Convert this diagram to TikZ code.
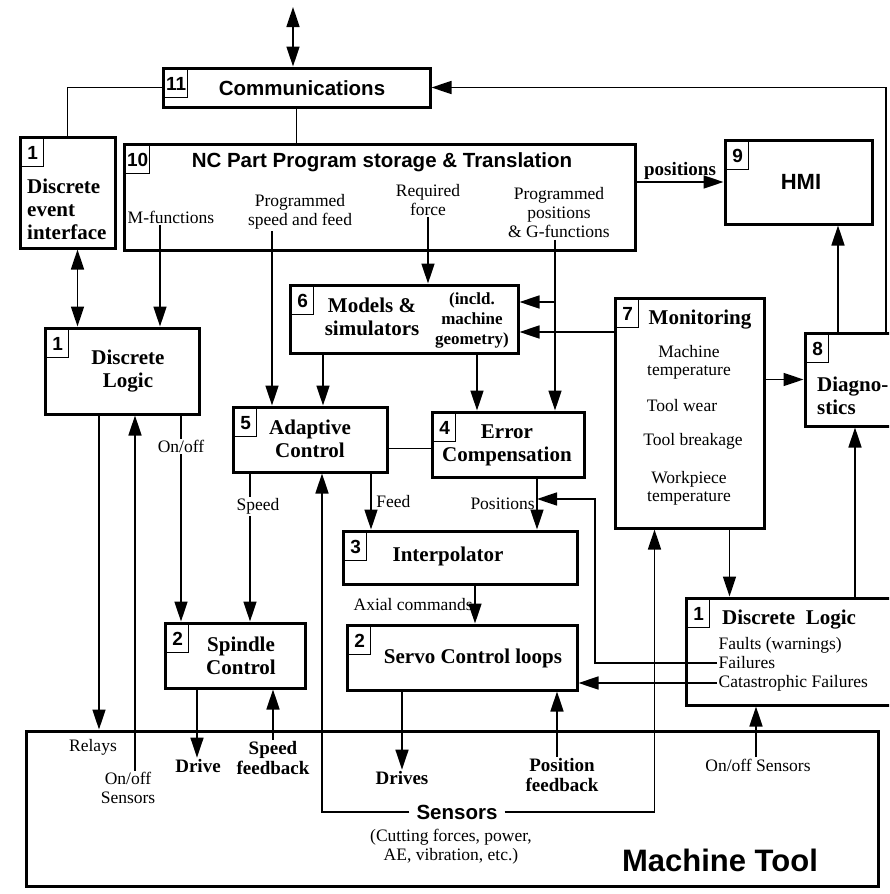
\documentclass[tikz,border=0pt]{standalone}
\usepackage{fontspec}
\setmainfont{Liberation Serif}
\setsansfont{Liberation Sans}
\usetikzlibrary{arrows.meta}
\tikzset{
 blk/.style={draw,line width=3pt,inner sep=0pt},
 nbox/.style={draw,line width=1.3pt,anchor=north west,inner sep=1.5pt,minimum width=22pt,minimum height=28pt,font=\sffamily\bfseries\fontsize{19}{19}\selectfont},
 ttl/.style={font=\bfseries\fontsize{21}{23}\selectfont,align=center,inner sep=1pt},
 sttl/.style={font=\sffamily\bfseries\fontsize{20.5}{22}\selectfont,inner sep=1pt},
 lbl/.style={font=\fontsize{17.5}{19}\selectfont,align=center,inner sep=1.5pt},
 blbl/.style={font=\bfseries\fontsize{19}{20}\selectfont,align=center,inner sep=1.5pt},
 ln/.style={line width=1.6pt},
 arr/.style={ln,-{Triangle[length=20pt,width=13pt]}},
 dbl/.style={ln,{Triangle[length=20pt,width=13pt]}-{Triangle[length=20pt,width=13pt]}}
}
\begin{document}
\begin{tikzpicture}[x=1pt,y=-1pt]
 \useasboundingbox[fill=white] (0,0) rectangle (889,894);
 \clip (0,0) rectangle (889,894);
 % blocks
 \node[blk,minimum width=267pt,minimum height=39pt] (comm) at (296.5,87.5) {};
 \node[blk,minimum width=95pt,minimum height=111pt] (dei) at (67.5,192.5) {};
 \node[blk,minimum width=511pt,minimum height=106pt] (nc) at (379.5,197) {};
 \node[blk,minimum width=147pt,minimum height=84pt] (hmi) at (798.5,182) {};
 \node[blk,minimum width=154pt,minimum height=86pt] (dla) at (122,371) {};
 \node[blk,minimum width=228pt,minimum height=68pt] (mod) at (404,319) {};
 \node[blk,minimum width=154pt,minimum height=65pt] (ada) at (310,439.5) {};
 \node[blk,minimum width=152pt,minimum height=65pt] (err) at (508,444.5) {};
 \node[blk,minimum width=149pt,minimum height=230pt] (mon) at (689.5,413) {};
 \node[blk,minimum width=100pt,minimum height=93pt] (dia) at (855,379.5) {};
 \node[blk,minimum width=219pt,minimum height=107pt] (dlb) at (795.5,651.5) {};
 \node[blk,minimum width=234pt,minimum height=53pt] (int) at (460,557.5) {};
 \node[blk,minimum width=230pt,minimum height=65pt] (servo) at (462,657.5) {};
 \node[blk,minimum width=140pt,minimum height=65pt] (spin) at (235,655.5) {};
 \node[blk,minimum width=852pt,minimum height=155pt] (mt) at (452,808.5) {};
 \foreach \b/\n in {comm/11,dei/1,nc/10,hmi/9,dla/1,mod/6,ada/5,err/4,mon/7,dia/8,dlb/1,int/3,servo/2,spin/2}
  \node[nbox] (\b-no) at ([xshift=2.5pt,yshift=-2.5pt]\b.north west) {\n};
 % texts in blocks
 \node[sttl] (commt) at (302,88) {Communications};
 \node[ttl,align=left,anchor=west] (deit) at (26,209) {Discrete\\event\\interface};
 \node[sttl] (nct) at (382,162) {NC Part Program storage \& Translation};
 \node[sttl,font=\sffamily\bfseries\fontsize{22}{22}\selectfont] (hmit) at (801,182) {HMI};
 \node[ttl] (dlat) at (128,371) {Discrete\\Logic};
 \node[ttl] (modt) at (372,317) {Models \&\\simulators};
 \node[blbl,font=\bfseries\fontsize{17}{20}\selectfont] (modx) at (472,320) {(incld.\\machine\\geometry)};
 \node[ttl] (adat) at (310,439) {Adaptive\\Control};
 \node[ttl] (errt) at (507,445) {Error\\Compensation};
 \node[ttl] (mont) at (700,320) {Monitoring};
 \node[lbl,font=\fontsize{17.5}{18}\selectfont] (mon1) at (689,362) {Machine\\temperature};
 \node[lbl] (mon2) at (682,406) {Tool wear};
 \node[lbl] (mon3) at (693,441) {Tool breakage};
 \node[lbl,font=\fontsize{17.5}{18}\selectfont] (mon4) at (689,488) {Workpiece\\temperature};
 \node[ttl,align=left,anchor=west] (diat) at (816,396) {Diagno-\\stics};
 \node[ttl,anchor=west] (dlbt) at (721,620) {Discrete\ \ Logic};
 \node[lbl,anchor=west] (flt) at (717,645) {Faults (warnings)};
 \node[lbl,anchor=west] (fail) at (717,663) {Failures};
 \node[lbl,anchor=west] (cat) at (717,683) {Catastrophic Failures};
 \node[ttl] (intt) at (448,556) {Interpolator};
 \node[ttl] (servot) at (473,658) {Servo Control loops};
 \node[ttl] (spint) at (241,656) {Spindle\\Control};
 \node[sttl,inner xsep=7pt] (sens) at (457,812) {Sensors};
 \node[lbl] (sensx) at (451,847) {(Cutting forces, power,\\AE, vibration, etc.)};
 \node[sttl,font=\sffamily\bfseries\fontsize{31}{31}\selectfont] (mtt) at (720,860) {Machine Tool};
 \node[lbl] (mf) at (171,217) {M-functions};
 \node[lbl] (psf) at (300,212) {Programmed\\speed and feed};
 \node[lbl] (rf) at (428,200) {Required\\force};
 \node[lbl] (ppg) at (559,213) {Programmed\\positions\\\& G-functions};
 \node[lbl] (rel) at (93,747) {Relays};
 \node[lbl] (oosa) at (128,788) {On/off\\Sensors};
 \node[blbl] (drv) at (198,766) {Drive};
 \node[blbl] (sfb) at (273,758) {Speed\\feedback};
 \node[blbl] (drvs) at (402,778) {Drives};
 \node[blbl] (pfb) at (562,775) {Position\\feedback};
 \node[lbl] (oosb) at (758,765) {On/off Sensors};
 % connectors
 \coordinate (ext) at (293,7);
 \coordinate (rt) at (886,0);
 \draw[dbl] (ext) -- (ext |- comm.north);
 \draw[ln] (comm.west) -| (dei.north);
 \draw[ln] (comm.south) -- (comm.south |- nc.north);
 \draw[arr] (dia.north -| rt) |- (comm.east);
 \draw[arr] (hmi.west -| nc.east) -- node[blbl,above] (posl) {positions} (hmi.west);
 \draw[arr] ([xshift=-17pt]dia.north) -- ([xshift=-17pt]dia.north |- hmi.south);
 \draw[dbl] ([xshift=10pt]dei.south) -- ([xshift=10pt]dei.south |- dla.north);
 \draw[arr] ([xshift=-11pt]mf.south) -- ([xshift=-11pt]mf.south |- dla.north);
 \draw[arr] ([xshift=-28pt]psf.south) -- ([xshift=-28pt]psf.south |- ada.north);
 \draw[arr] (rf.south) -- (rf.south |- mod.north);
 \draw[arr] ([xshift=-4pt]ppg.south) -- ([xshift=-4pt]ppg.south |- err.north);
 \coordinate (m1) at ([yshift=17pt]mod.east);
 \coordinate (m2) at ([yshift=-13pt]mod.east);
 \draw[arr] ([xshift=-4pt]ppg.south |- m1) -- (m1);
 \draw[arr] (mon.west |- m2) -- (m2);
 \draw[arr] ([xshift=13pt]ada.north |- mod.south) -- ([xshift=13pt]ada.north);
 \draw[arr] ([xshift=-31pt]err.north |- mod.south) -- ([xshift=-31pt]err.north);
 \draw[ln] ([yshift=-4pt]err.west) -- ([yshift=-4pt]err.west -| ada.east);
 \draw[arr] ([xshift=61pt]ada.south) -- node[lbl,right,xshift=3pt] (feed) {Feed} ([xshift=61pt]ada.south |- int.north);
 \draw[arr] ([xshift=-60pt]ada.south) -- node[lbl,fill=white,pos=.22,xshift=8pt] (spd) {Speed} ([xshift=-60pt]ada.south |- spin.north);
 \draw[arr] ([xshift=59pt]dla.south) -- node[lbl,fill=white,pos=.15] (onoff) {On/off} ([xshift=59pt]dla.south |- spin.north);
 \draw[arr] ([xshift=-23pt]dla.south) -- ([xshift=-23pt]dla.south |- mt.north);
 \draw[arr] ([xshift=7pt]oosa.north) -- ([xshift=7pt]oosa.north |- dla.south);
 \draw[arr] ([xshift=-38pt]spin.south) -- ([xshift=-38pt]spin.south |- drv.north);
 \draw[arr] (sfb.north) -- (sfb.north |- spin.south);
 \draw[arr] ([xshift=15pt]int.south) -- node[lbl,left] (axc) {Axial commands} ([xshift=15pt]int.south |- servo.north);
 \coordinate (px) at ([xshift=29pt]err.south);
 \coordinate (fb) at (595,499);
 \draw[arr] (px) -- node[lbl,left] (posn) {Positions} (px |- int.north);
 \draw[arr] (fail.west) -| (fb) -- (fb -| px);
 \draw[arr] (cat.west) -- (cat.west -| servo.east);
 \draw[arr] ([xshift=-60pt]servo.south) -- ([xshift=-60pt]servo.south |- drvs.north);
 \draw[arr] ([xshift=-5pt]pfb.north) -- ([xshift=-5pt]pfb.north |- servo.south);
 \draw[arr] (sens.west) -| ([xshift=12pt]ada.south);
 \draw[arr] (sens.east) -| ([xshift=-35pt]mon.south);
 \draw[arr] ([xshift=40pt]mon.south) -- ([xshift=40pt]mon.south |- dlb.north);
 \draw[arr] (dia.south |- dlb.north) -- (dia.south);
 \draw[arr] ([xshift=-2pt]oosb.north) -- ([xshift=-2pt]oosb.north |- dlb.south);
 \draw[arr] (mon.east |- dia.west) -- (dia.west);
\end{tikzpicture}
\end{document}
